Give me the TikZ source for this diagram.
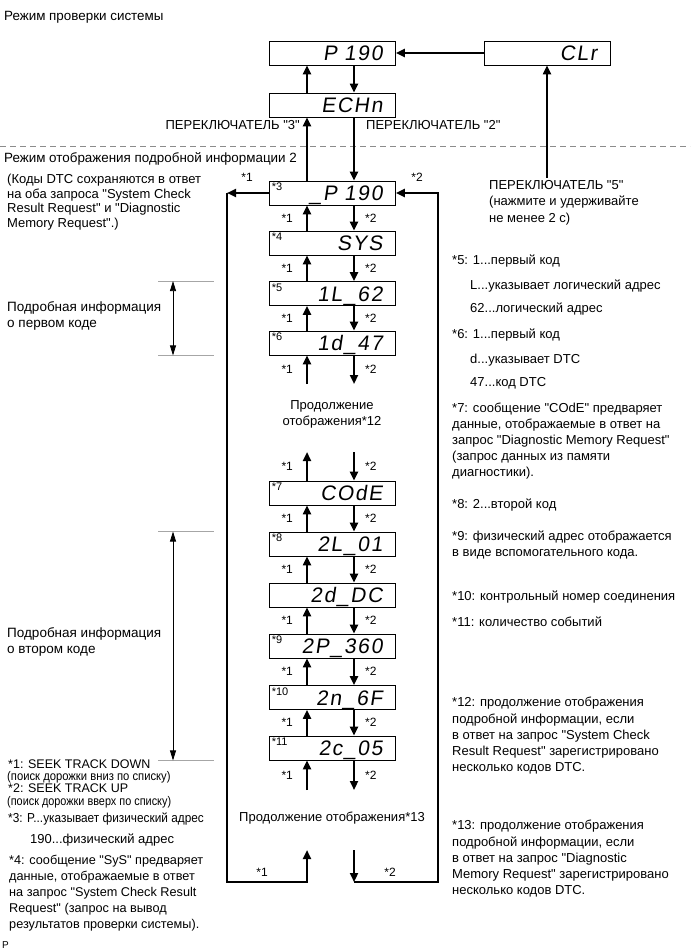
\documentclass[tikz,border=0pt]{standalone}
\usepackage{graphicx}
\usepackage{fontspec}
\setmainfont{Liberation Sans}[Ligatures=TeXOff]
\newfontfamily\segfont{Liberation Sans}[FakeSlant=0.15,LetterSpace=8,Ligatures=TeXOff]
\usetikzlibrary{arrows.meta,calc}
\begin{document}
\begin{tikzpicture}[x=1pt,y=-1pt,
  font=\fontsize{13}{15}\selectfont,
  every node/.style={inner sep=0pt},
  disp/.style={draw, line width=0.9pt, fill=white, minimum width=126pt, minimum height=24pt,
    text width=100pt, align=right, font=\segfont\fontsize{21}{21}\selectfont,
    text height=15pt, text depth=0pt},
  tag/.style={anchor=north west, font=\fontsize{11}{11}\selectfont},
  arr/.style={line width=2.2pt, -{Triangle[length=9pt,width=8pt]}},
  star/.style={font=\fontsize{12}{12}\selectfont},
  txt/.style={anchor=north west, align=left},
  bl/.style={anchor=base west},
  brk/.style={draw=black!35, line width=0.8pt},
  dbl/.style={line width=0.8pt, {Triangle[length=10pt,width=6pt]}-{Triangle[length=10pt,width=6pt]}}
]
\fill[white] (0,0) rectangle (690,952);
\useasboundingbox (0,0) rectangle (690,952);

% ---------- titles ----------
\node[anchor=west, font=\fontsize{13.4}{15}\selectfont] (t1) at (4,17) {Режим проверки системы};
\draw[black!45, line width=1pt, dash pattern=on 6pt off 4pt] (0,147) coordinate (dl) -- (690,147) coordinate (dr);
\node[anchor=west, font=\fontsize{13.4}{15}\selectfont] (t2) at (4,159) {Режим отображения подробной информации 2};

% ---------- display boxes ----------
\node[disp] (p190) at (332.5,53) {P 190};
\node[disp] (echn) at (332.5,105) {ECHn};
\node[disp] (clr) at (547,53) {CLr};
\node[disp] (b3) at (332.5,193) {\_P 190};
\node[disp] (b4) at (332.5,243) {SYS};
\node[disp] (b5) at (332.5,293.5) {1L\_62};
\node[disp] (b6) at (332.5,343) {1d\_47};
\node[disp] (b7) at (332.5,493) {COdE};
\node[disp] (b8) at (332.5,544) {2L\_01};
\node[disp] (bdc) at (332.5,595) {2d\_DC};
\node[disp] (b9) at (332.5,646) {2P\_360};
\node[disp] (b10) at (332.5,697.5) {2n\_6F};
\node[disp] (b11) at (332.5,748) {2c\_05};

\foreach \b/\t in {b3/*3,b4/*4,b5/*5,b6/*6,b7/*7,b8/*8,b9/*9,b10/*10,b11/*11}
  \node[tag] (tag\b) at ($(\b.north west)+(2.5,2.5)$) {\t};

% ---------- column coordinates ----------
\coordinate (cu) at (307,0);
\coordinate (cd) at (354,0);

% top part
\draw[arr] (echn.north -| cu) -- (p190.south -| cu);
\draw[arr] (p190.south -| cd) -- (echn.north -| cd);
\draw[arr] (clr.west) -- (p190.east);
\coordinate (sw5) at (547,178);
\draw[arr] (sw5) -- (clr.south);
\draw[arr] (b3.north -| cu) -- (echn.south -| cu);
\draw[arr] (echn.south -| cd) -- (b3.north -| cd);
\node[anchor=east] (sw3) at (300,125) {ПЕРЕКЛЮЧАТЕЛЬ "3"};
\node[anchor=west] (sw2) at (366,125) {ПЕРЕКЛЮЧАТЕЛЬ "2"};

% between boxes
\foreach \u/\l in {b3/b4,b4/b5,b5/b6,b7/b8,b8/bdc,bdc/b9,b9/b10,b10/b11}{
  \draw[arr] (\l.north -| cu) -- node[star,left=13pt]{*1} (\u.south -| cu);
  \draw[arr] (\u.south -| cd) -- node[star,right=10pt]{*2} (\l.north -| cd);
}
% stubs
\coordinate (s6u) at (307,384); \coordinate (s6d) at (354,384);
\draw[arr] (s6u) -- node[star,left=13pt]{*1} (b6.south -| cu);
\draw[arr] (b6.south -| cd) -- node[star,right=10pt]{*2} (s6d);
\coordinate (s7u) at (307,452); \coordinate (s7d) at (354,452);
\draw[arr] (b7.north -| cu) -- node[star,left=13pt]{*1} (s7u);
\draw[arr] (s7d) -- node[star,right=10pt]{*2} (b7.north -| cd);
\coordinate (s11u) at (307,790); \coordinate (s11d) at (354,790);
\draw[arr] (s11u) -- node[star,left=13pt]{*1} (b11.south -| cu);
\draw[arr] (b11.south -| cd) -- node[star,right=10pt]{*2} (s11d);

\node[align=center, font=\fontsize{13}{16}\selectfont] (cont12) at (332,414) {Продолжение\\отображения*12};
\node (cont13) at (332,818) {Продолжение отображения*13};

% loops
\coordinate (ltop) at (227,193); \coordinate (lbot) at (227,882);
\coordinate (lbr) at (307,882); \coordinate (lup) at (307,850);
\draw[arr] (b3.west) -- (ltop);
\draw[arr] (ltop) -- (lbot) -- (lbr) -- (lup);
\coordinate (rtop) at (438,193); \coordinate (rbot) at (438,882);
\coordinate (rbl) at (354,882); \coordinate (rdn) at (354,850);
\draw[arr] (rdn) -- (rbl);
\draw[arr] (rbl) -- (rbot) -- (rtop) -- (b3.east);
\node[star] (l1a) at (247,177) {*1};
\node[star] (l2a) at (417,177) {*2};
\node[star] (l1b) at (262,872) {*1};
\node[star] (l2b) at (390,872) {*2};

% brackets
\coordinate (kx1) at (158,0); \coordinate (kx2) at (214,0); \coordinate (kx) at (173,0);
\draw[brk] (b5.north -| kx1) -- (b5.north -| kx2);
\draw[brk] (b6.south -| kx1) -- (b6.south -| kx2);
\draw[dbl] (b5.north -| kx) -- (b6.south -| kx);
\draw[brk] (b8.north -| kx1) -- (b8.north -| kx2);
\draw[brk] (b11.south -| kx1) -- (b11.south -| kx2);
\draw[dbl] (b8.north -| kx) -- (b11.south -| kx);

% ---------- left texts ----------
\node[txt, font=\fontsize{13}{14.6}\selectfont] (kody) at (7,174) {(Коды DTC сохраняются в ответ\\на оба запроса "System Check\\Result Request" и "Diagnostic\\Memory Request".)};
\node[anchor=west, align=left, font=\fontsize{13.5}{15.5}\selectfont] (inf1) at (7,316) {Подробная информация\\о первом коде};
\node[anchor=west, align=left, font=\fontsize{13.5}{15.5}\selectfont] (inf2) at (7,642) {Подробная информация\\о втором коде};

\node[bl, font=\fontsize{12.5}{12}\selectfont] (n1) at (8,768) {*1: SEEK TRACK DOWN};
\node[bl, font=\fontsize{12.5}{12}\selectfont] (n1b) at (7,780.5) {\scalebox{0.9}[1]{(поиск дорожки вниз по списку)}};
\node[bl, font=\fontsize{12.5}{12}\selectfont] (n2) at (8,792.5) {*2: SEEK TRACK UP};
\node[bl, font=\fontsize{12.5}{12}\selectfont] (n2b) at (7,805) {\scalebox{0.87}[1]{(поиск дорожки вверх по списку)}};
\node[anchor=west] (n3) at (8,819) {\scalebox{0.91}[1]{*3: P...указывает физический адрес}};
\node[anchor=west] (n3b) at (30,840) {190...физический адрес};
\node[txt, font=\fontsize{12.7}{16}\selectfont] (n4) at (9,855) {*4: сообщение "SyS" предваряет\\данные, отображаемые в ответ\\на запрос "System Check Result\\Request" (запрос на вывод\\результатов проверки системы).};
\node[anchor=west, font=\fontsize{10}{10}\selectfont] (pp) at (2,945) {P};

% ---------- right texts ----------
\node[txt, font=\fontsize{13}{16.5}\selectfont] (sw5t) at (489,180) {ПЕРЕКЛЮЧАТЕЛЬ "5"\\(нажмите и удерживайте\\не менее 2 с)};
\node[anchor=west] (r5) at (452,261) {*5: 1...первый код};
\node[anchor=west] (r5b) at (470,286) {L...указывает логический адрес};
\node[anchor=west] (r5c) at (470,309) {62...логический адрес};
\node[anchor=west] (r6) at (452,335) {*6: 1...первый код};
\node[anchor=west] (r6b) at (470,360) {d...указывает DTC};
\node[anchor=west] (r6c) at (470,383) {47...код DTC};
\node[txt, font=\fontsize{13}{16}\selectfont] (r7) at (452,403) {*7: сообщение "COdE" предваряет\\данные, отображаемые в ответ на\\запрос "Diagnostic Memory Request"\\(запрос данных из памяти\\диагностики).};
\node[anchor=west] (r8) at (452,505) {*8: 2...второй код};
\node[txt, font=\fontsize{13}{16}\selectfont] (r9) at (452,531) {*9: физический адрес отображается\\в виде вспомогательного кода.};
\node[anchor=west] (r10) at (452,597) {*10: контрольный номер соединения};
\node[anchor=west] (r11) at (452,622) {*11: количество событий};
\node[txt, font=\fontsize{13}{16.3}\selectfont] (r12) at (452,697) {*12: продолжение отображения\\подробной информации, если\\в ответ на запрос "System Check\\Result Request" зарегистрировано\\несколько кодов DTC.};
\node[txt, font=\fontsize{13}{16.3}\selectfont] (r13) at (452,820) {*13: продолжение отображения\\подробной информации, если\\в ответ на запрос "Diagnostic\\Memory Request" зарегистрировано\\несколько кодов DTC.};
\end{tikzpicture}
\end{document}
